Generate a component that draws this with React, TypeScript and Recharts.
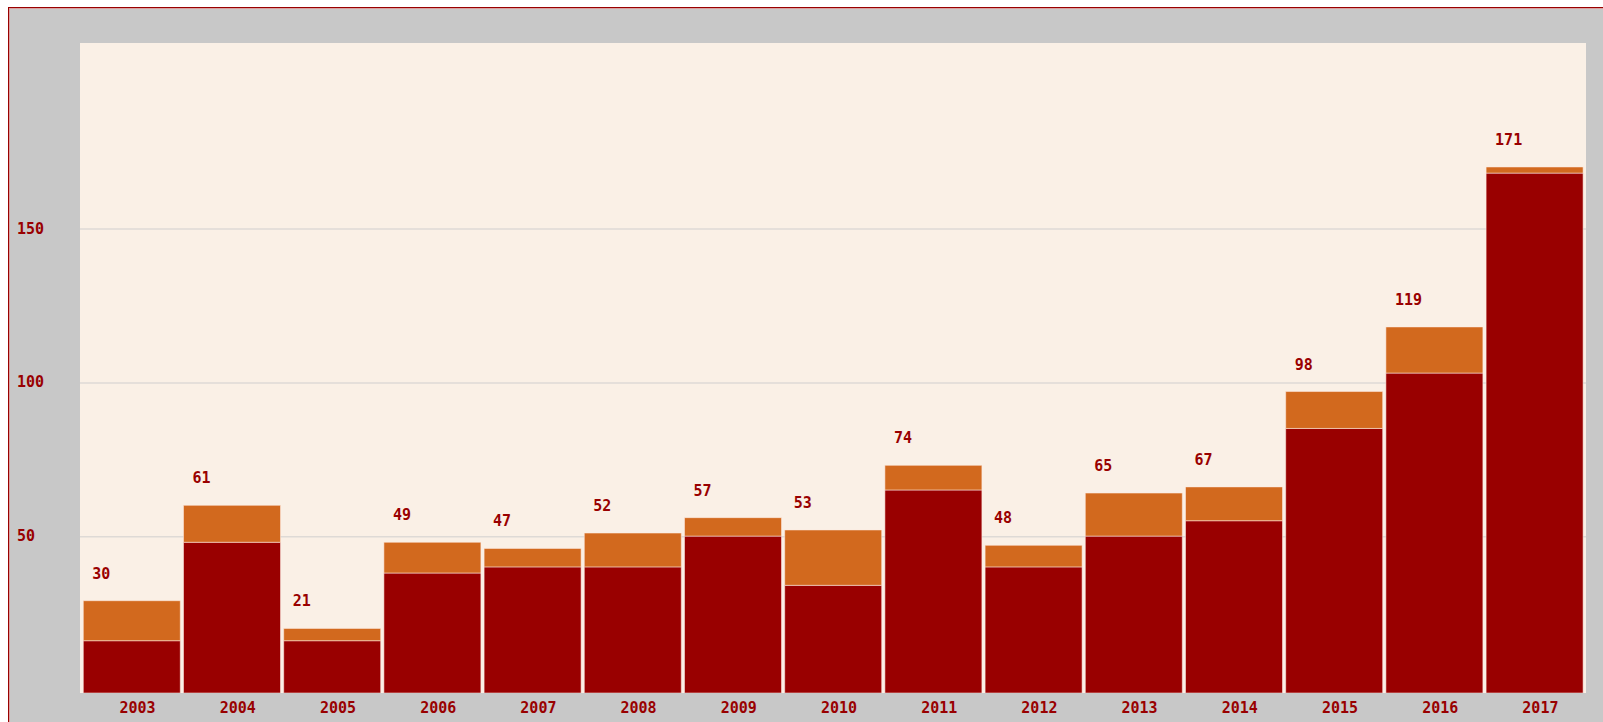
import React from "react";
import { BarChart, Bar, XAxis, YAxis, CartesianGrid, LabelList } from "recharts";

const years = ["2003", "2004", "2005", "2006", "2007", "2008", "2009", "2010", "2011", "2012", "2013", "2014", "2015", "2016", "2017"];
const lowerValues = [17, 49, 17, 39, 41, 41, 51, 35, 66, 41, 51, 56, 86, 104, 169];
const upperValues = [13, 12, 4, 10, 6, 11, 6, 18, 8, 7, 14, 11, 12, 15, 2];
const totalLabels = [30, 61, 21, 49, 47, 52, 57, 53, 74, 48, 65, 67, 98, 119, 171];
const yTicks = [50, 100, 150];

const data = years.map((y, i) => ({
  year: y,
  lower: lowerValues[i],
  upper: upperValues[i],
  total: totalLabels[i],
}));

const FONT = "'DejaVu Sans Mono', monospace";
const TEXT = "#990000";
const GRID_SHIFT = -2.5;

const YTick = (props: any) => {
  const { y, payload } = props;
  return (
    <text x={8} y={y + GRID_SHIFT - 0.5} fill={TEXT} fontFamily={FONT} fontSize={15} fontWeight="bold" textAnchor="start" dominantBaseline="central">
      {payload.value}
    </text>
  );
};

const XTick = (props: any) => {
  const { x, payload } = props;
  return (
    <text x={x + 6} y={700} fill={TEXT} fontFamily={FONT} fontSize={15} fontWeight="bold" textAnchor="middle" dominantBaseline="central">
      {payload.value}
    </text>
  );
};

const TopLabel = (props: any) => {
  const { x, y, index } = props;
  return (
    <text x={x + 9} y={y - 27} fill={TEXT} fontFamily={FONT} fontSize={15} fontWeight="bold" textAnchor="start" dominantBaseline="central">
      {totalLabels[index]}
    </text>
  );
};

const gridGen = (args: any) => {
  const yAxis = args && args.yAxis;
  if (yAxis && typeof yAxis.scale === "function") {
    return yTicks.map((t) => yAxis.scale(t) + GRID_SHIFT);
  }
  const off = args.offset;
  return yTicks.map((t) => off.top + off.height * (1 - t / 211.3) + GRID_SHIFT);
};

export default function App() {
  return (
    <div
      style={{
        position: "absolute",
        left: 8,
        top: 7,
        width: 1600,
        height: 720,
        border: "1px solid #990000",
        background: "#C8C8C8",
        boxShadow: "inset 1px 1px 0 #d9a0a0",
        overflow: "hidden",
      }}
    >
      <BarChart
        width={1594}
        height={714}
        data={data}
        margin={{ top: 35, right: 17, bottom: 0, left: 0 }}
        barCategoryGap={1.8}
      >
        <CartesianGrid
          vertical={false}
          horizontal={true}
          stroke="#dedad6"
          strokeWidth={1.5}
          fill="#FAF0E6"
          horizontalCoordinatesGenerator={gridGen}
        />
        <XAxis
          dataKey="year"
          height={29}
          axisLine={false}
          tickLine={false}
          tick={<XTick />}
          interval={0}
          padding={{ left: 1.5, right: 1.5 }}
        />
        <YAxis
          width={71}
          domain={[0, 211.3]}
          ticks={yTicks}
          axisLine={false}
          tickLine={false}
          tick={<YTick />}
          allowDataOverflow
        />
        <Bar dataKey="lower" stackId="a" fill="#990000" stroke="rgba(255,235,225,0.55)" strokeWidth={1} isAnimationActive={false} />
        <Bar dataKey="upper" stackId="a" fill="#D2691E" stroke="rgba(255,235,225,0.55)" strokeWidth={1} isAnimationActive={false}>
          <LabelList dataKey="total" content={<TopLabel />} />
        </Bar>
      </BarChart>
    </div>
  );
}
